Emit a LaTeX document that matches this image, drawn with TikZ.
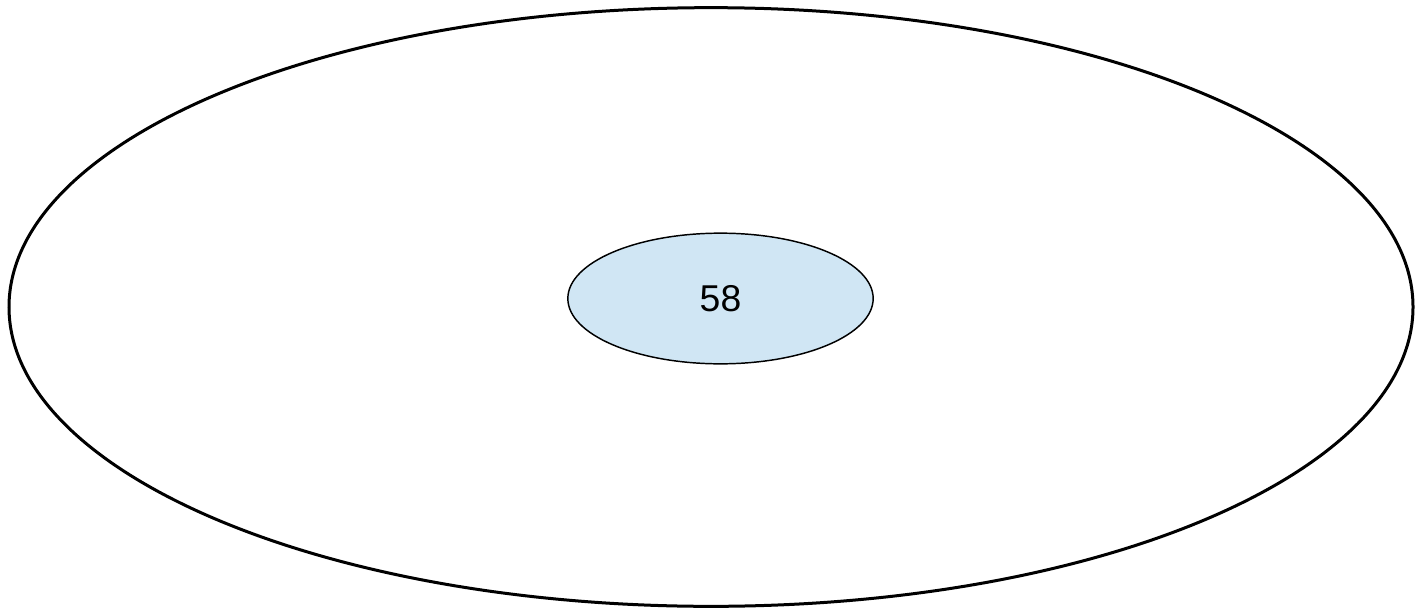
\documentclass[tikz,border=0pt]{standalone}
\usepackage{fontspec}
\setmainfont{Liberation Sans}
\usetikzlibrary{shapes.geometric}
\definecolor{valfill}{HTML}{D0E6F4}
\tikzset{every picture/.style={line width=0.75pt}}

\begin{document}
\begin{tikzpicture}[
                x=0.75pt,
                y=0.75pt,
                yscale=-1,
                xscale=1,
                every node/.style={text=black},
                setellipse/.style={draw=black, ellipse, inner sep=0pt},
                line width=0.75pt
            ]
                \useasboundingbox (0,0) rectangle (1426,610);
                \node [setellipse, line width=2.25pt, minimum width=1053pt, minimum height=449pt] (outer) at (711,307) {};
                \node [setellipse, fill=valfill, line width=1.1pt, minimum width=229pt, minimum height=98pt, font=\fontsize{28}{34}\selectfont] (inner) at (720.5,298.5) {58};
            \end{tikzpicture}
\end{document}
